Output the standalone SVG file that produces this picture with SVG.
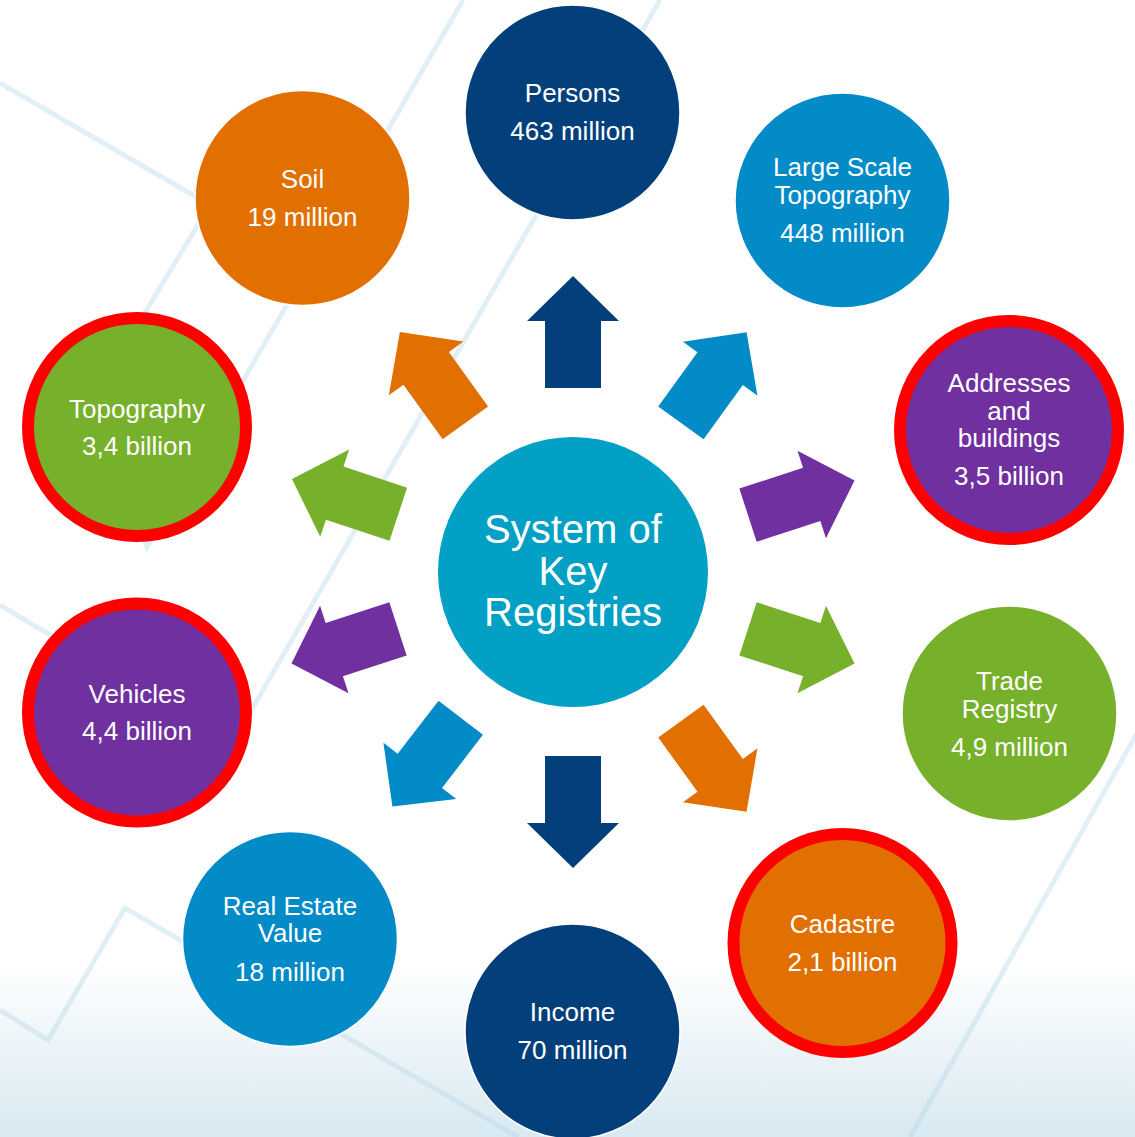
<svg xmlns="http://www.w3.org/2000/svg" xmlns:xlink="http://www.w3.org/1999/xlink" width="1135" height="1137" viewBox="0 0 1135 1137">
  <style>
    .lbl { font-family: "Liberation Sans", Arial, sans-serif; font-size: 26px; fill: #ffffff; text-anchor: middle; }
    .big { font-family: "Liberation Sans", Arial, sans-serif; font-size: 40px; fill: #ffffff; text-anchor: middle; }
    .bgline { fill: none; stroke: #b5d6e8; stroke-opacity: 0.4; stroke-width: 5; stroke-linejoin: miter; }
    .node { stroke: #ffffff; stroke-width: 1.5; }
    .key { stroke: #ff0000; stroke-width: 12; }
  </style>
  <defs>
    <linearGradient id="bg" x1="0" y1="0" x2="0" y2="1137" gradientUnits="userSpaceOnUse">
      <stop offset="0" stop-color="#ffffff"/>
      <stop offset="0.845" stop-color="#ffffff"/>
      <stop offset="1" stop-color="#d8e9f1"/>
    </linearGradient>
    <path id="arrow" d="M-28,-184 V-251 H-46 L0,-296 L46,-251 H28 V-184 Z"/>
  </defs>

  <g id="background">
    <rect x="0" y="0" width="1135" height="1137" fill="url(#bg)"/>
    <polyline class="bgline" points="0,83 210,205 95,395 147,547 463,0"/>
    <polyline class="bgline" points="0,605 232,744 660,0"/>
    <polyline class="bgline" points="0,1010 48,1040 125,908 518,1137"/>
    <line class="bgline" x1="1140" y1="728" x2="910" y2="1137"/>
  </g>

  <g id="connectors">
    <use xlink:href="#arrow" transform="translate(573 572) rotate(0)" fill="#03407B"/>
    <use xlink:href="#arrow" transform="translate(573 572) rotate(35.9)" fill="#028BC7"/>
    <use xlink:href="#arrow" transform="translate(573 572) rotate(72)" fill="#7030A0"/>
    <use xlink:href="#arrow" transform="translate(573 572) rotate(108)" fill="#77B02A"/>
    <use xlink:href="#arrow" transform="translate(573 572) rotate(144.1)" fill="#E17000"/>
    <use xlink:href="#arrow" transform="translate(573 572) rotate(180)" fill="#03407B"/>
    <use xlink:href="#arrow" transform="translate(573 572) rotate(217.6)" fill="#028BC7"/>
    <use xlink:href="#arrow" transform="translate(573 572) rotate(252)" fill="#7030A0"/>
    <use xlink:href="#arrow" transform="translate(573 572) rotate(288.3)" fill="#77B02A"/>
    <use xlink:href="#arrow" transform="translate(573 572) rotate(324.2)" fill="#E17000"/>
  </g>

  <g id="center">
    <circle cx="573" cy="572" r="135" fill="#02A0C5"/>
    <text class="big" x="573" y="543">System of</text>
    <text class="big" x="573" y="584.5">Key</text>
    <text class="big" x="573" y="626">Registries</text>
  </g>

  <g id="persons">
    <circle class="node" cx="572.5" cy="112.5" r="107.5" fill="#03407B"/>
    <text class="lbl" x="572.5" y="102">Persons</text>
    <text class="lbl" x="572.5" y="140">463 million</text>
  </g>

  <g id="large-scale-topography">
    <circle class="node" cx="842.5" cy="200.5" r="107.5" fill="#028BC7"/>
    <text class="lbl" x="842.5" y="176">Large Scale</text>
    <text class="lbl" x="842.5" y="203.5">Topography</text>
    <text class="lbl" x="842.5" y="242">448 million</text>
  </g>

  <g id="addresses-buildings">
    <circle class="key" cx="1009" cy="430" r="109" fill="#7030A0"/>
    <text class="lbl" x="1009" y="392">Addresses</text>
    <text class="lbl" x="1009" y="419.5">and</text>
    <text class="lbl" x="1009" y="447">buildings</text>
    <text class="lbl" x="1009" y="485">3,5 billion</text>
  </g>

  <g id="trade-registry">
    <circle class="node" cx="1009.5" cy="713.5" r="107.5" fill="#77B02A"/>
    <text class="lbl" x="1009.5" y="690">Trade</text>
    <text class="lbl" x="1009.5" y="717.5">Registry</text>
    <text class="lbl" x="1009.5" y="756">4,9 million</text>
  </g>

  <g id="cadastre">
    <circle class="key" cx="842.5" cy="943" r="109" fill="#E17000"/>
    <text class="lbl" x="842.5" y="933">Cadastre</text>
    <text class="lbl" x="842.5" y="971">2,1 billion</text>
  </g>

  <g id="income">
    <circle class="node" cx="572.5" cy="1031.5" r="107.5" fill="#03407B"/>
    <text class="lbl" x="572.5" y="1021">Income</text>
    <text class="lbl" x="572.5" y="1059">70 million</text>
  </g>

  <g id="real-estate-value">
    <circle class="node" cx="290" cy="939" r="107.5" fill="#028BC7"/>
    <text class="lbl" x="290" y="914.5">Real Estate</text>
    <text class="lbl" x="290" y="942">Value</text>
    <text class="lbl" x="290" y="981">18 million</text>
  </g>

  <g id="vehicles">
    <circle class="key" cx="137" cy="712.5" r="109" fill="#7030A0"/>
    <text class="lbl" x="137" y="702.5">Vehicles</text>
    <text class="lbl" x="137" y="740">4,4 billion</text>
  </g>

  <g id="topography">
    <circle class="key" cx="137" cy="427" r="109" fill="#77B02A"/>
    <text class="lbl" x="137" y="417.5">Topography</text>
    <text class="lbl" x="137" y="455">3,4 billion</text>
  </g>

  <g id="soil">
    <circle class="node" cx="302.5" cy="198" r="107.5" fill="#E17000"/>
    <text class="lbl" x="302.5" y="188">Soil</text>
    <text class="lbl" x="302.5" y="226">19 million</text>
  </g>
</svg>
